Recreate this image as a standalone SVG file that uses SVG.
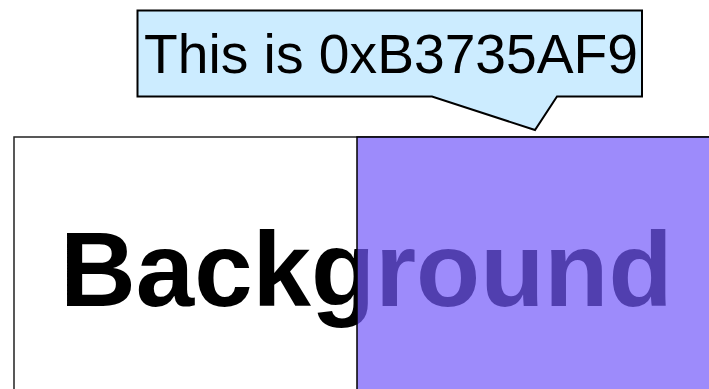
<svg xmlns="http://www.w3.org/2000/svg" width="709" height="389" viewBox="0 0 709 389">
<style>
.lbl{font-family:"Liberation Sans",Arial,sans-serif}
</style>
<rect width="709" height="389" fill="#ffffff"/>
<g id="background">
<rect x="14" y="137" width="710" height="270" fill="#ffffff" stroke="#222" stroke-width="1.5"/>
<text class="lbl" x="60" y="306" font-size="105" font-weight="bold" fill="#000">Background</text>
</g>
<g id="overlay">
<rect x="357" y="137" width="360" height="260" fill="#735AF9" fill-opacity="0.7"/>
<rect x="357" y="137" width="360" height="260" fill="none" stroke="#000" stroke-width="1.5"/>
</g>
<g id="callout">
<path d="M137.5,10.5 H642 V96.5 H557 L535,130 L432,96.5 H137.5 Z" fill="#CCECFF" stroke="#000" stroke-width="2" stroke-linejoin="miter"/>
<text class="lbl" x="144" y="73" font-size="56" fill="#000" textLength="494" lengthAdjust="spacingAndGlyphs">This is 0xB3735AF9</text>
</g>
</svg>
